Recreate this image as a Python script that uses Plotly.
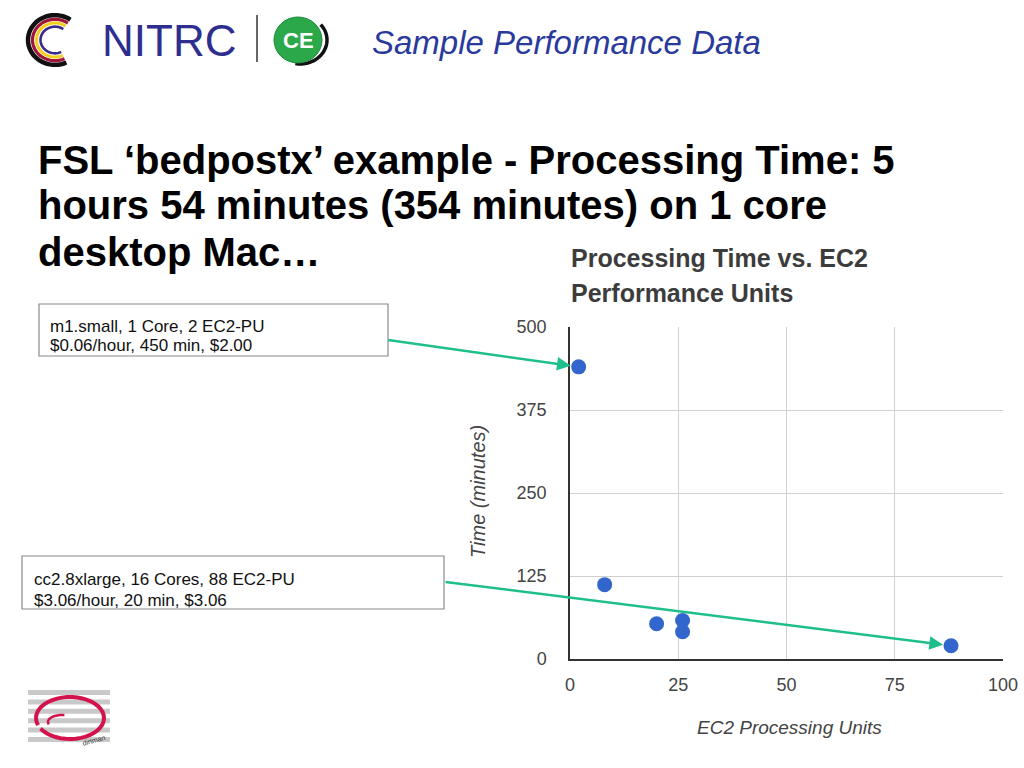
import math
import plotly.graph_objects as go

# ---------------- data ----------------
ec2_units = [2, 8, 20, 26, 26, 88]
time_minutes = [440, 112, 53, 58, 41, 20]
x_ticks = [0, 25, 50, 75, 100]
y_ticks = [0, 125, 250, 375, 500]

title_lines = [
    "FSL \u2018bedpostx\u2019 example - Processing Time: 5",
    "hours 54 minutes (354 minutes) on 1 core",
    "desktop Mac\u2026",
]
chart_title_lines = ["Processing Time vs. EC2", "Performance Units"]
box1_lines = ["m1.small, 1 Core, 2 EC2-PU", "$0.06/hour, 450 min, $2.00"]
box2_lines = ["cc2.8xlarge, 16 Cores, 88 EC2-PU", "$3.06/hour, 20 min, $3.06"]

W, H = 1024, 768


def X(px):
    return px / W


def Y(py):
    return 1 - py / H


def arc_path(cx, cy, rx, ry, a0, a1, n=40):
    pts = []
    for i in range(n + 1):
        t = math.radians(a0 + (a1 - a0) * i / n)
        pts.append((X(cx + rx * math.cos(t)), Y(cy - ry * math.sin(t))))
    return "M " + " L ".join(f"{a:.5f},{b:.5f}" for a, b in pts)


fig = go.Figure()
fig.add_trace(go.Scatter(
    x=ec2_units, y=time_minutes, mode="markers",
    marker=dict(color="#3366cc", size=15, line=dict(width=0)),
    hoverinfo="x+y", showlegend=False, cliponaxis=False,
))

shapes = []
annotations = []

# ---- header logo: NITRC swirl ----
for r, col, w in [(27, "#111111", 4.5), (22.5, "#a0163a", 3.2), (18.5, "#f2cf1f", 3.0), (14.5, "#3a2a8a", 2.6)]:
    shapes.append(dict(type="path", xref="paper", yref="paper",
                       path=arc_path(55, 40, r, r * 0.92, 55, 295),
                       line=dict(color=col, width=w)))
annotations.append(dict(text="NITRC", x=X(100), y=Y(40), xref="paper", yref="paper",
                        xanchor="left", yanchor="middle", showarrow=False,
                        font=dict(family="Liberation Sans", size=44, color="#2e2e8e")))
shapes.append(dict(type="line", xref="paper", yref="paper",
                   x0=X(257), x1=X(257), y0=Y(15), y1=Y(62),
                   line=dict(color="#333333", width=1.5)))
shapes.append(dict(type="path", xref="paper", yref="paper",
                   path=arc_path(300, 40, 27, 24, -100, 40),
                   line=dict(color="#111111", width=3.5)))
shapes.append(dict(type="circle", xref="paper", yref="paper",
                   x0=X(274), x1=X(322), y0=Y(63), y1=Y(17),
                   fillcolor="#2aa84a", line=dict(color="#1d8a3a", width=1)))
annotations.append(dict(text="<b>CE</b>", x=X(298), y=Y(40), xref="paper", yref="paper",
                        xanchor="center", yanchor="middle", showarrow=False,
                        font=dict(family="Liberation Sans", size=22, color="white")))
annotations.append(dict(text="<i>Sample Performance Data</i>", x=X(370), y=Y(42),
                        xref="paper", yref="paper", xanchor="left", yanchor="middle",
                        showarrow=False,
                        font=dict(family="Liberation Sans", size=33, color="#2a3a9c")))

# ---- main title ----
for line, yc in zip(title_lines, [160, 205, 252]):
    annotations.append(dict(text=f"<b>{line}</b>", x=X(36), y=Y(yc), xref="paper", yref="paper",
                            xanchor="left", yanchor="middle", showarrow=False,
                            font=dict(family="Liberation Sans", size=40, color="#000000")))

# ---- chart title ----
for line, yc in zip(chart_title_lines, [258, 293]):
    annotations.append(dict(text=f"<b>{line}</b>", x=X(569), y=Y(yc), xref="paper", yref="paper",
                            xanchor="left", yanchor="middle", showarrow=False,
                            font=dict(family="Liberation Sans", size=25, color="#3c3c3c")))

# ---- axis titles ----
annotations.append(dict(text="<i>Time (minutes)</i>", x=X(478), y=Y(492), xref="paper", yref="paper",
                        xanchor="center", yanchor="middle", showarrow=False, textangle=-90,
                        font=dict(family="Liberation Sans", size=20, color="#444444")))
annotations.append(dict(text="<i>EC2 Processing Units</i>", x=X(789), y=Y(727), xref="paper", yref="paper",
                        xanchor="center", yanchor="middle", showarrow=False,
                        font=dict(family="Liberation Sans", size=19, color="#444444")))

# ---- callout boxes ----
shapes.append(dict(type="rect", xref="paper", yref="paper",
                   x0=X(39), x1=X(388), y0=Y(356), y1=Y(304),
                   fillcolor="white", line=dict(color="#8a8a8a", width=1.2), layer="below"))
for line, yc in zip(box1_lines, [326, 346]):
    annotations.append(dict(text=line, x=X(48), y=Y(yc), xref="paper", yref="paper",
                            xanchor="left", yanchor="middle", showarrow=False,
                            font=dict(family="Liberation Sans", size=17, color="#111111")))
shapes.append(dict(type="rect", xref="paper", yref="paper",
                   x0=X(22), x1=X(444), y0=Y(609), y1=Y(556),
                   fillcolor="white", line=dict(color="#8a8a8a", width=1.2), layer="below"))
for line, yc in zip(box2_lines, [579, 600]):
    annotations.append(dict(text=line, x=X(32), y=Y(yc), xref="paper", yref="paper",
                            xanchor="left", yanchor="middle", showarrow=False,
                            font=dict(family="Liberation Sans", size=17, color="#111111")))

# ---- arrows pointing to data points ----
arrow_col = "#1fbf8c"
annotations.append(dict(x=ec2_units[0], y=time_minutes[0], xref="x", yref="y",
                        ax=-192, ay=-27, axref="pixel", ayref="pixel", text="",
                        showarrow=True, arrowhead=2, arrowsize=1.1, arrowwidth=2.5,
                        arrowcolor=arrow_col, standoff=8))
annotations.append(dict(x=ec2_units[5], y=time_minutes[5], xref="x", yref="y",
                        ax=-507, ay=-64, axref="pixel", ayref="pixel", text="",
                        showarrow=True, arrowhead=2, arrowsize=1.1, arrowwidth=2.5,
                        arrowcolor=arrow_col, standoff=8))

# ---- bottom-left logo ----
for i in range(6):
    top = 690 + i * 9.4
    shapes.append(dict(type="rect", xref="paper", yref="paper",
                       x0=X(28), x1=X(110), y0=Y(top + 5), y1=Y(top),
                       fillcolor="#c9c9c9", line=dict(width=0)))
shapes.append(dict(type="path", xref="paper", yref="paper",
                   path=arc_path(70, 718, 34, 21, 200, -150),
                   line=dict(color="#d4134c", width=4)))
shapes.append(dict(type="path", xref="paper", yref="paper",
                   path=arc_path(62, 722, 14, 7, 200, 80, 20),
                   line=dict(color="#d4134c", width=2.5)))
annotations.append(dict(text="dirtman", x=X(93), y=Y(740), xref="paper", yref="paper",
                        xanchor="center", yanchor="middle", showarrow=False, textangle=-15,
                        font=dict(family="Liberation Sans", size=7, color="#333333")))

fig.update_layout(
    width=W, height=H,
    margin=dict(l=0, r=0, t=0, b=0, pad=0),
    paper_bgcolor="white", plot_bgcolor="white",
    shapes=shapes, annotations=annotations,
    showlegend=False,
    xaxis=dict(domain=[X(570), X(1003)], range=[0, 100], tickvals=x_ticks,
               showgrid=True, gridcolor="#d0d0d0", gridwidth=1, zeroline=False,
               showline=True, linecolor="#333333", linewidth=1.5,
               ticks="outside", ticklen=9, tickcolor="rgba(0,0,0,0)",
               tickfont=dict(family="Liberation Sans", size=18, color="#444444"),
               automargin=False, fixedrange=True),
    yaxis=dict(domain=[Y(659), Y(327)], range=[0, 500], tickvals=y_ticks,
               showgrid=True, gridcolor="#d0d0d0", gridwidth=1, zeroline=False,
               showline=True, linecolor="#333333", linewidth=1.5,
               ticks="outside", ticklen=18, tickcolor="rgba(0,0,0,0)",
               tickfont=dict(family="Liberation Sans", size=18, color="#444444"),
               automargin=False, fixedrange=True),
)

fig.write_html(
    "out.html",
    config={"displayModeBar": False},
    post_script="document.body.style.margin='0';document.body.style.overflow='hidden';",
)
